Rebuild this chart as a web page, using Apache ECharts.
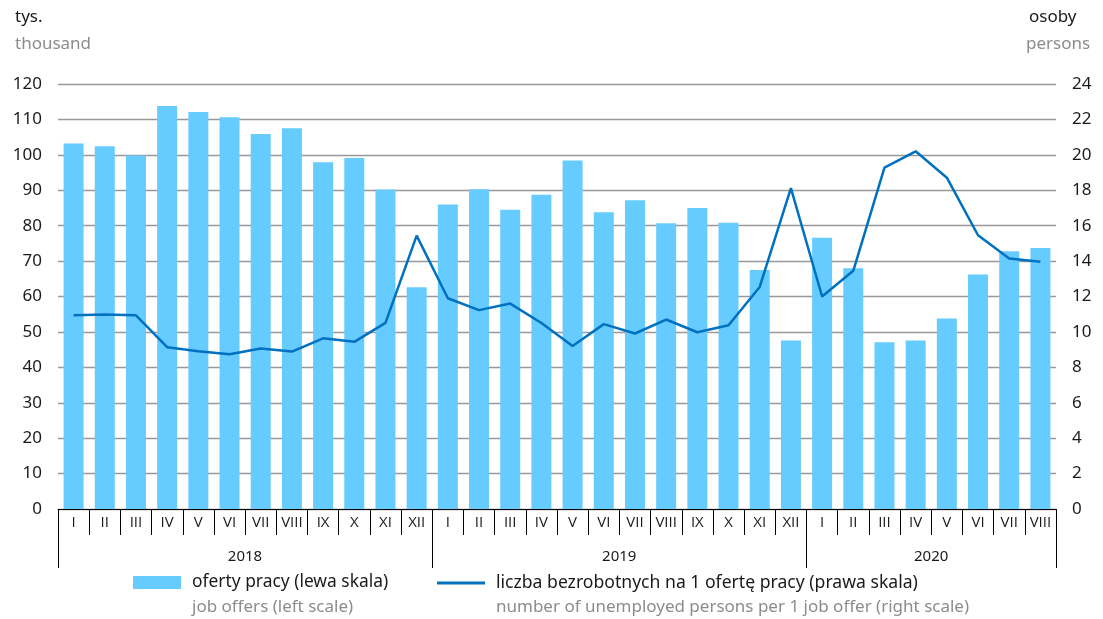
<!DOCTYPE html>
<html>
<head>
<meta charset="utf-8">
<script src="https://cdn.jsdelivr.net/npm/echarts@6/dist/echarts.min.js"></script>
<style>
    html, body { margin: 0; padding: 0; background: #fff; }
    #chart { width: 1103px; height: 619px; }
</style>
</head>
<body>
<div id="chart"></div>
<script type="text/javascript">
    // miesiace / months
    var months = ['I','II','III','IV','V','VI','VII','VIII','IX','X','XI','XII',
                  'I','II','III','IV','V','VI','VII','VIII','IX','X','XI','XII',
                  'I','II','III','IV','V','VI','VII','VIII'];
    var years = ['2018','2019','2020'];
    var yearStart = [0, 12, 24];
    var yearLabelAt = [5, 17, 27];

    // oferty pracy, tys. / job offers, thousand
    var offers = [103.2, 102.4, 99.8, 113.8, 112.1, 110.6, 105.9, 107.5, 97.9, 99.1, 90.2, 62.6,
                  86.0, 90.3, 84.5, 88.7, 98.4, 83.8, 87.2, 80.7, 85.0, 80.8, 67.5, 47.6,
                  76.6, 68.0, 47.1, 47.6, 53.8, 66.2, 72.8, 73.7];
    // bezrobotni na 1 oferte / unemployed per 1 job offer
    var perOffer = [10.94, 10.98, 10.94, 9.14, 8.91, 8.74, 9.06, 8.89, 9.64, 9.44, 10.51, 15.44,
                    11.9, 11.23, 11.6, 10.5, 9.21, 10.44, 9.91, 10.7, 9.98, 10.38, 12.54, 18.12,
                    12.0, 13.45, 19.28, 20.2, 18.71, 15.46, 14.15, 13.96];

    var leftTicks = [0, 120, 10];
    var rightTicks = [0, 24, 2];

    var nameBar = 'oferty pracy (lewa skala)';
    var nameLine = 'liczba bezrobotnych na 1 ofertę pracy (prawa skala)';
    var english = {};
    english[nameBar] = 'job offers (left scale)';
    english[nameLine] = 'number of unemployed persons per 1 job offer (right scale)';

    var font = 'Noto Sans';
    var monthFont = 'Open Sans';
    var dark = '#1a1a1a';
    var grey = '#8c8c8c';
    var barColor = '#66ccff';
    var lineColor = '#0070c0';

    var yearMonthIdx = months.map(function (m, i) { return i; });

    var myChart = echarts.init(document.getElementById('chart'));
    var option = {
        animation: false,
        textStyle: { fontFamily: font },
        title: [
            { text: 'tys.', left: 10, top: 4, textStyle: { fontSize: 17, fontWeight: 'normal', color: dark, fontFamily: font } },
            { text: 'thousand', left: 10, top: 31, textStyle: { fontSize: 17, fontWeight: 'normal', color: grey, fontFamily: font } },
            { text: 'osoby', left: 1024, top: 4, textStyle: { fontSize: 17, fontWeight: 'normal', color: dark, fontFamily: font } },
            { text: 'persons', left: 1021, top: 31, textStyle: { fontSize: 17, fontWeight: 'normal', color: grey, fontFamily: font } }
        ],
        legend: [
            { data: [nameBar], left: 133, top: 574, padding: 0, itemWidth: 48, itemHeight: 13, icon: 'rect',
              itemStyle: { color: barColor },
              textStyle: { fontSize: 17.4, color: dark, fontFamily: font, padding: [0, 0, 0, 6] } },
            { data: [nameLine], left: 437, top: 574, padding: 0, itemWidth: 48, itemHeight: 3, icon: 'rect',
              itemStyle: { color: lineColor },
              textStyle: { fontSize: 17.6, color: dark, fontFamily: font, padding: [0, 0, 0, 6] } },
            { data: [nameBar], left: 133, top: 599, padding: 0, itemWidth: 48, itemHeight: 13, icon: 'rect',
              itemStyle: { opacity: 0 }, lineStyle: { opacity: 0 },
              formatter: function (n) { return english[n]; },
              textStyle: { fontSize: 17, color: grey, fontFamily: font, padding: [0, 0, 0, 6] } },
            { data: [nameLine], left: 437, top: 599, padding: 0, itemWidth: 48, itemHeight: 13, icon: 'rect',
              itemStyle: { opacity: 0 }, lineStyle: { opacity: 0 },
              formatter: function (n) { return english[n]; },
              textStyle: { fontSize: 17, color: grey, fontFamily: font, padding: [0, 0, 0, 6] } }
        ],
        grid: { left: 58, right: 47, top: 84, bottom: 110 },
        xAxis: [
            {
                type: 'category',
                data: months,
                boundaryGap: true,
                axisLine: { show: true, lineStyle: { color: '#000', width: 1 } },
                axisTick: { show: true, interval: 0, length: 26, lineStyle: { color: '#000', width: 1 } },
                axisLabel: { interval: 0, margin: 6, fontSize: 15, color: dark, fontFamily: monthFont }
            },
            {
                type: 'category',
                data: yearMonthIdx,
                position: 'bottom',
                boundaryGap: true,
                axisLine: { show: false },
                axisTick: {
                    show: true, length: 59, lineStyle: { color: '#000', width: 1 },
                    interval: function (idx) { return yearStart.indexOf(idx) >= 0; }
                },
                axisLabel: {
                    margin: 40, fontSize: 15, color: dark, fontFamily: font,
                    padding: [0, 0, 0, 31],
                    interval: function (idx) { return yearLabelAt.indexOf(idx) >= 0; },
                    formatter: function (v, idx) {
                        var k = yearLabelAt.indexOf(idx);
                        return k >= 0 ? years[k] : '';
                    }
                }
            }
        ],
        yAxis: [
            {
                type: 'value',
                min: leftTicks[0], max: leftTicks[1], interval: leftTicks[2],
                axisLine: { show: false }, axisTick: { show: false },
                axisLabel: { margin: 16, fontSize: 17, color: dark, fontFamily: font },
                splitLine: { show: true, lineStyle: { color: '#999', width: 1.3 } }
            },
            {
                type: 'value',
                min: rightTicks[0], max: rightTicks[1], interval: rightTicks[2],
                axisLine: { show: false }, axisTick: { show: false },
                axisLabel: { margin: 16, fontSize: 17, color: dark, fontFamily: font },
                splitLine: { show: false }
            }
        ],
        series: [
            {
                name: nameBar,
                type: 'bar',
                data: offers,
                barWidth: 20,
                itemStyle: { color: barColor }
            },
            {
                name: nameLine,
                type: 'line',
                yAxisIndex: 1,
                data: perOffer,
                symbol: 'none',
                lineStyle: { color: lineColor, width: 2.5 },
                itemStyle: { color: lineColor }
            }
        ]
    };
    myChart.setOption(option);
</script>
</body>
</html>
